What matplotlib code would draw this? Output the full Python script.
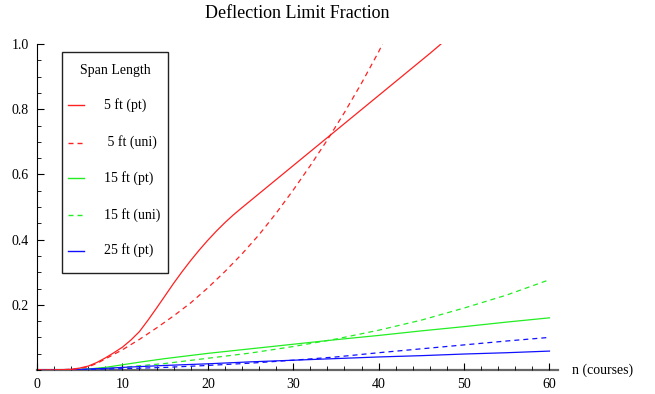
import matplotlib
matplotlib.use('Agg')
import matplotlib.pyplot as plt
from matplotlib.lines import Line2D
from matplotlib.patches import Rectangle
from matplotlib.ticker import MultipleLocator

plt.rcParams['font.family'] = ['Liberation Serif', 'DejaVu Serif']
plt.rcParams['lines.scale_dashes'] = False

# ---- data ----
n_red_pt = [0, 2, 4, 5, 6, 7, 8, 9, 10, 11, 12, 13, 14, 15, 16, 17, 18, 19, 20, 21, 22, 23, 24, 26, 28, 30,
            32, 34, 36, 38, 40, 42, 44, 46, 47.3]
v_red_pt = [0, 0, 0.002, 0.006, 0.012, 0.023, 0.037, 0.053, 0.07, 0.092, 0.118, 0.153, 0.19, 0.228, 0.266,
            0.302, 0.336, 0.368, 0.398, 0.426, 0.452, 0.476, 0.498, 0.541, 0.584, 0.627, 0.67, 0.713, 0.756,
            0.799, 0.842, 0.885, 0.928, 0.971, 1.0]

n_red_uni = [0, 2, 4, 5, 6, 7, 8, 9, 10, 12, 14, 16, 18, 20, 22, 24, 26, 28, 30, 32, 34, 36, 38, 40, 40.45]
v_red_uni = [0, 0, 0.002, 0.005, 0.01, 0.02, 0.034, 0.048, 0.062, 0.094, 0.129, 0.166, 0.206, 0.252, 0.302,
             0.356, 0.415, 0.481, 0.552, 0.627, 0.706, 0.79, 0.88, 0.976, 1.0]

n_grn_pt = [0, 2, 4, 6, 8, 10, 12, 15, 20, 25, 30, 35, 40, 45, 50, 55, 60]
v_grn_pt = [0, 0, 0.001, 0.003, 0.008, 0.016, 0.024, 0.035, 0.051, 0.065, 0.079, 0.093, 0.106, 0.12, 0.133,
            0.147, 0.16]

n_grn_uni = [0, 2, 4, 6, 8, 10, 12, 15, 20, 25, 30, 35, 40, 45, 50, 55, 60]
v_grn_uni = [0, 0, 0.001, 0.002, 0.004, 0.008, 0.013, 0.02, 0.036, 0.052, 0.072, 0.095, 0.122, 0.153, 0.19,
             0.23, 0.277]

n_blu_pt = [0, 5, 8, 10, 15, 20, 25, 30, 35, 40, 45, 50, 55, 60]
v_blu_pt = [0, 0.002, 0.005, 0.008, 0.014, 0.019, 0.025, 0.030, 0.035, 0.040, 0.044, 0.049, 0.053, 0.058]

n_blu_uni = [0, 5, 10, 15, 20, 25, 30, 35, 40, 45, 50, 55, 60]
v_blu_uni = [0, 0.001, 0.004, 0.008, 0.014, 0.021, 0.030, 0.040, 0.053, 0.065, 0.077, 0.089, 0.10]

legend_title = "Span Length"
legend_labels = ["5 ft (pt)", " 5 ft (uni)", "15 ft (pt)", "15 ft (uni)", "25 ft (pt)"]
title = "Deflection Limit Fraction"
xlabel = "n (courses)"

RED, GRN, BLU = '#ff2020', '#22ee22', '#1010ff'
DASH = (0, (3.6, 2.9))

W, H = 655, 394
fig = plt.figure(figsize=(W / 100, H / 100), dpi=100)

def fx(px):
    return px / W

def fy(py):
    return 1 - py / H

ax = fig.add_axes([fx(37), fy(370), fx(558) - fx(37), fy(44) - fy(370)])

lw = 0.9
ax.plot(n_grn_uni, v_grn_uni, color=GRN, lw=lw, linestyle=DASH)
ax.plot(n_grn_pt, v_grn_pt, color=GRN, lw=lw)
ax.plot(n_blu_uni, v_blu_uni, color=BLU, lw=lw, linestyle=DASH)
ax.plot(n_blu_pt, v_blu_pt, color=BLU, lw=lw)
ax.plot(n_red_uni, v_red_uni, color=RED, lw=lw, linestyle=DASH)
ax.plot(n_red_pt, v_red_pt, color=RED, lw=lw)

ax.set_xlim(0, 61)
ax.set_ylim(0, 1.0)
for s in ['top', 'right']:
    ax.spines[s].set_visible(False)
ax.spines['left'].set_color('black')
ax.spines['left'].set_linewidth(0.8)
ax.spines['bottom'].set_color('#666666')
ax.spines['bottom'].set_linewidth(1.6)
ax.spines['bottom'].set_zorder(0.5)

ax.xaxis.set_major_locator(MultipleLocator(10))
ax.xaxis.set_minor_locator(MultipleLocator(2))
ax.set_yticks([0.2, 0.4, 0.6, 0.8, 1.0])
ax.set_yticklabels(['0.2', '0.4', '0.6', '0.8', '1.0'])
ax.yaxis.set_minor_locator(MultipleLocator(0.05))
ax.tick_params(axis='both', which='major', direction='in', length=5, width=0.8, labelsize=10, color='black')
ax.tick_params(axis='both', which='minor', direction='in', length=3, width=0.6, color='black')
ax.tick_params(axis='x', pad=6)
ax.tick_params(axis='y', pad=6)

fig.text(fx(297.5), fy(13), title, ha='center', va='center', fontsize=13)
fig.text(fx(572), fy(370), xlabel, ha='left', va='center', fontsize=10)

# legend box
fig.patches.append(Rectangle((fx(63), fy(274)), fx(169) - fx(63), fy(53) - fy(274),
                             transform=fig.transFigure, facecolor='#888888', edgecolor='none', zorder=4))
fig.patches.append(Rectangle((fx(62), fy(273)), fx(168) - fx(62), fy(52) - fy(273),
                             transform=fig.transFigure, facecolor='white', edgecolor='#222222',
                             linewidth=1.0, zorder=5))
fig.text(fx(115), fy(70.5), legend_title, ha='center', va='center', fontsize=10, zorder=6)
handle_styles = [(RED, '-'), (RED, DASH), (GRN, '-'), (GRN, DASH), (BLU, '-')]
ys = [105, 142.5, 178, 215, 250.5]
for (c, ls), lab, yy in zip(handle_styles, legend_labels, ys):
    fig.lines.append(Line2D([fx(68), fx(84)], [fy(yy), fy(yy)], transform=fig.transFigure,
                            color=c, linestyle=ls, lw=1.0, zorder=6))
    fig.text(fx(104), fy(yy), lab, ha='left', va='center', fontsize=10, zorder=6)

fig.savefig('out.png', dpi=100)
